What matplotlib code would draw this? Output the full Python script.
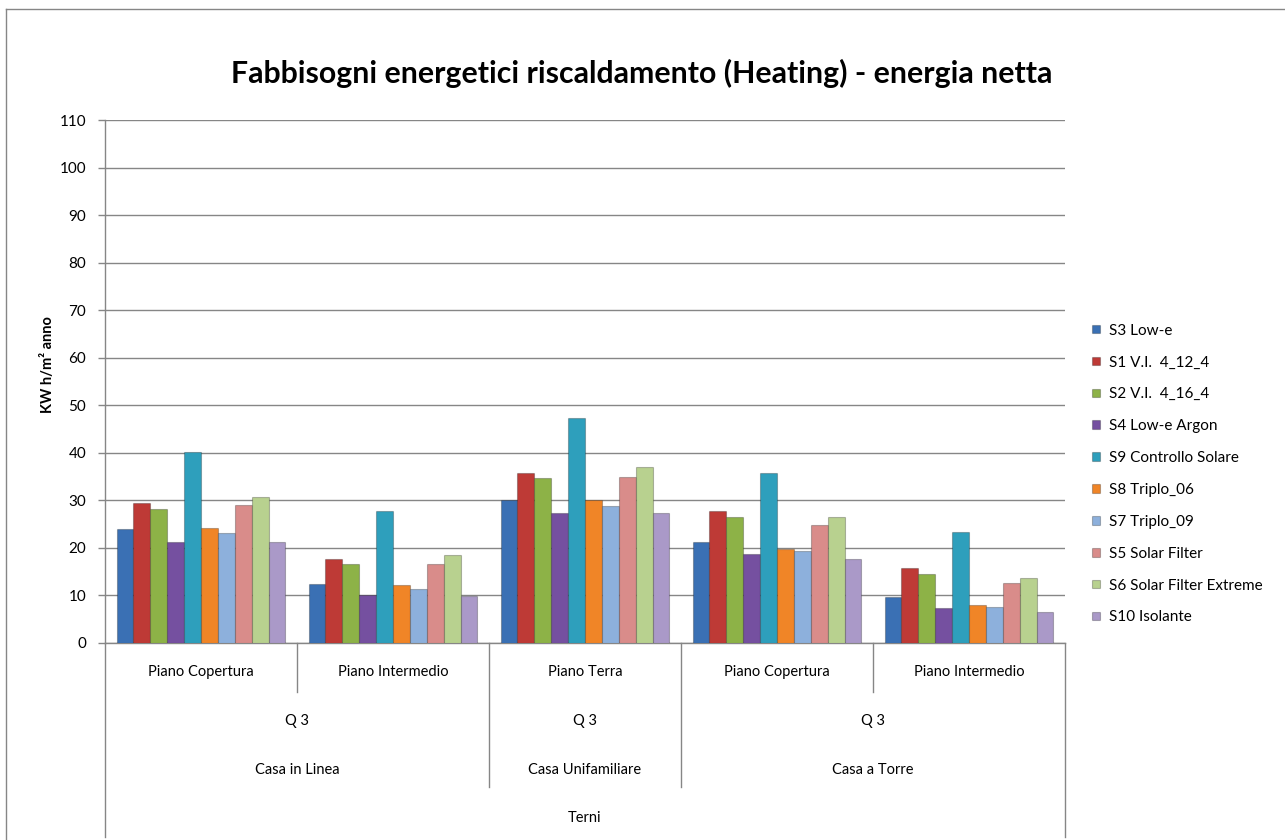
import matplotlib.pyplot as plt
from matplotlib.lines import Line2D
import numpy as np

plt.rcParams["font.family"] = ["Lato", "DejaVu Sans"]

TITLE = "Fabbisogni energetici riscaldamento (Heating) - energia netta"
Y_LABEL = "KW h/m² anno"

# category hierarchy (innermost first)
piani = ["Piano Copertura", "Piano Intermedio", "Piano Terra", "Piano Copertura", "Piano Intermedio"]
edifici = ["Casa in Linea", "Casa Unifamiliare", "Casa a Torre"]
edifici_n = [2, 1, 2]          # how many piani under each edificio
zona = "Q 3"
citta = "Terni"

# kWh/m2 anno, one value per piano
s3_low_e = [24.0, 12.4, 30.1, 21.2, 9.7]
s1_vi_4_12_4 = [29.5, 17.7, 35.8, 27.8, 15.8]
s2_vi_4_16_4 = [28.2, 16.6, 34.7, 26.5, 14.5]
s4_low_e_argon = [21.2, 10.1, 27.3, 18.7, 7.4]
s9_controllo_solare = [40.2, 27.8, 47.3, 35.8, 23.3]
s8_triplo_06 = [24.2, 12.2, 30.1, 19.8, 8.0]
s7_triplo_09 = [23.1, 11.4, 28.8, 19.3, 7.6]
s5_solar_filter = [29.0, 16.6, 34.9, 24.8, 12.6]
s6_solar_filter_ext = [30.7, 18.5, 37.1, 26.5, 13.7]
s10_isolante = [21.2, 9.9, 27.3, 17.7, 6.5]

series = [
    ("S3 Low-e", s3_low_e, "#3A70B4"),
    ("S1 V.I.  4_12_4", s1_vi_4_12_4, "#BE3A36"),
    ("S2 V.I.  4_16_4", s2_vi_4_16_4, "#8DB247"),
    ("S4 Low-e Argon", s4_low_e_argon, "#7550A0"),
    ("S9 Controllo Solare", s9_controllo_solare, "#2E9FBC"),
    ("S8 Triplo_06", s8_triplo_06, "#F08527"),
    ("S7 Triplo_09", s7_triplo_09, "#8DB0DC"),
    ("S5 Solar Filter", s5_solar_filter, "#D98C8A"),
    ("S6 Solar Filter Extreme", s6_solar_filter_ext, "#B8D18F"),
    ("S10 Isolante", s10_isolante, "#AA99C8"),
]

W, H = 1285, 840
GRID = "#868686"


def ay(py):
    # figure pixel row -> axes fraction (axes spans rows 120..643)
    return (643 - py) / 523


fig = plt.figure(figsize=(W / 100, H / 100), dpi=100)
ax = fig.add_axes([105 / W, 1 - 643 / H, 960 / W, 523 / H])

x = np.arange(len(piani))
bw = 0.088
n = len(series)
handles = []
for i, (label, vals, color) in enumerate(series):
    b = ax.bar(x + (i - (n - 1) / 2) * bw, vals, bw, color=color,
               edgecolor=(0, 0, 0, 0.25), linewidth=0.8, label=label, zorder=3)
    handles.append(b)

ax.set_xlim(-0.5, len(piani) - 0.5)
ax.set_ylim(0, 110)
ax.set_yticks(np.arange(0, 111, 10))
ax.yaxis.grid(True, color=GRID, linewidth=1)
ax.set_axisbelow(True)
ax.set_xticks([])
ax.tick_params(axis="y", length=5, width=1, color=GRID, labelsize=11, pad=8.5)
for s in ["top", "right"]:
    ax.spines[s].set_visible(False)
for s in ["left", "bottom"]:
    ax.spines[s].set_color(GRID)
    ax.spines[s].set_linewidth(1)

# multi-level category axis
tr = ax.get_xaxis_transform()
for xi, name in zip(x, piani):
    ax.text(xi, ay(672), name, transform=tr, ha="center", va="center", fontsize=10.5)

starts = np.concatenate([[0], np.cumsum(edifici_n)[:-1]])
bounds = set()
for st, cnt, name in zip(starts, edifici_n, edifici):
    mid = st + (cnt - 1) / 2
    ax.text(mid, ay(721), zona, transform=tr, ha="center", va="center", fontsize=10.5)
    ax.text(mid, ay(770), name, transform=tr, ha="center", va="center", fontsize=10.5)
    bounds.add(st - 0.5)
    bounds.add(st + cnt - 0.5)
    for k in range(1, cnt):
        xb = st + k - 0.5
        ax.plot([xb, xb], [0, ay(692)], transform=tr, color=GRID, lw=1, clip_on=False)
ax.text((len(piani) - 1) / 2, ay(818), citta, transform=tr, ha="center", va="center", fontsize=10.5)

for xb in sorted(bounds):
    outer = xb in (-0.5, len(piani) - 0.5)
    ax.plot([xb, xb], [0, ay(837 if outer else 787)], transform=tr,
            color=GRID, lw=1, clip_on=False)

fig.text(642 / W, 1 - 73 / H, TITLE, ha="center", va="center",
         fontsize=21.8, fontweight="bold")
fig.text(48 / W, 1 - 365 / H, Y_LABEL, rotation=90, ha="center", va="center",
         fontsize=10.5, fontweight="bold")

ax.legend(handles=handles, loc="center left", bbox_to_anchor=(1092 / W, 1 - 474 / H),
          bbox_transform=fig.transFigure, frameon=False, fontsize=11,
          handlelength=0.5, handleheight=0.5, handletextpad=0.6,
          labelspacing=1.17, borderpad=0, borderaxespad=0)

# chart area border (left and top visible)
fig.add_artist(Line2D([6 / W, 6 / W], [0, 1 - 9 / H], color=GRID, lw=1))
fig.add_artist(Line2D([6 / W, 1], [1 - 9 / H, 1 - 9 / H], color=GRID, lw=1))

fig.savefig("out.png", dpi=100)
